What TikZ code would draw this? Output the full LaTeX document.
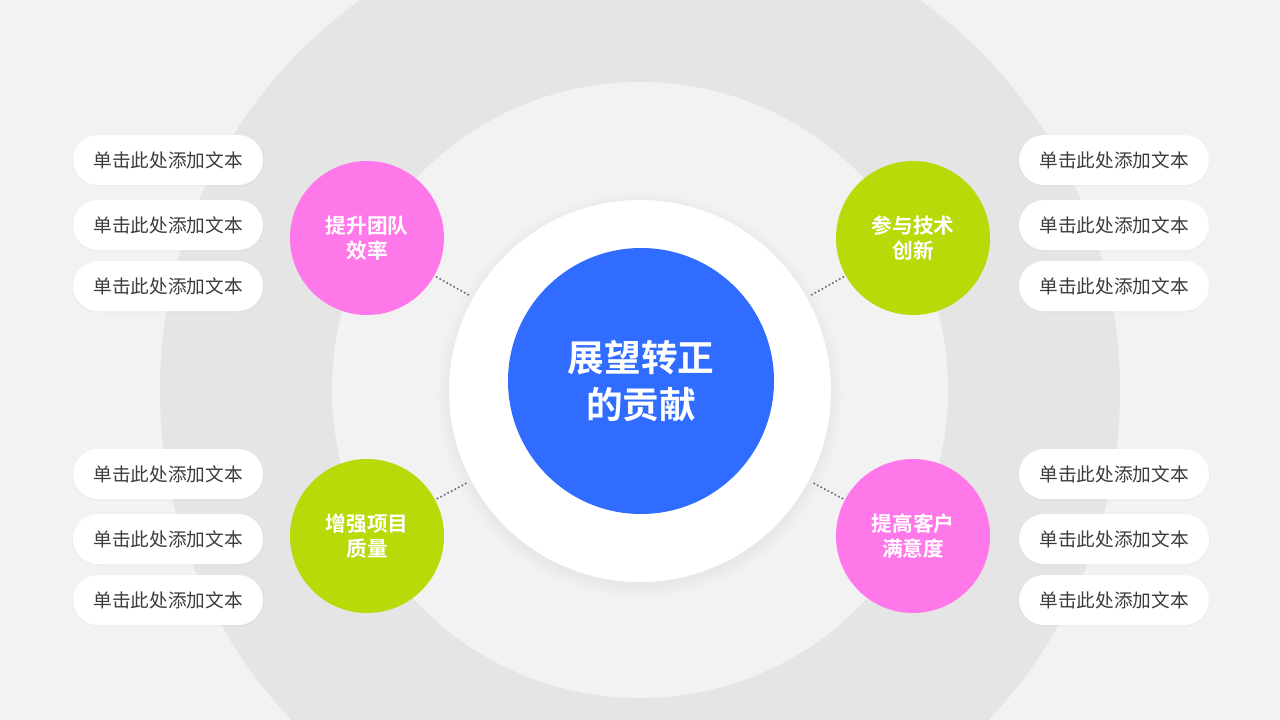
\documentclass[tikz,border=0pt]{standalone}
\usepackage{fontspec}
\newfontfamily\cjk{Noto Sans CJK SC}
\newfontfamily\cjkbold{Noto Sans CJK SC Bold}
\definecolor{bgc}{HTML}{F2F2F2}
\definecolor{ringc}{HTML}{E5E5E5}
\definecolor{bluec}{HTML}{2F6CFF}
\definecolor{pinkc}{HTML}{FF78E9}
\definecolor{greenc}{HTML}{B9D908}
\definecolor{txtc}{HTML}{3C3C3C}
\definecolor{dotc}{HTML}{5F6B7A}
\tikzset{
  pill/.style={rectangle, rounded corners=18.75pt, fill=white, minimum width=142.5pt, minimum height=37.5pt, inner sep=0pt, font=\cjk\fontsize{14}{16}\selectfont, text=txtc},
  bubble/.style={circle, minimum size=115.5pt, inner sep=0pt, text=white, align=center, font=\cjkbold\fontsize{15.5}{18.5}\selectfont},
  conn/.style={draw=dotc, line width=1.7pt, line cap=round, dash pattern=on 0pt off 3pt, shorten >=2pt, shorten <=2pt}
}
\begin{document}
\begin{tikzpicture}[x=0.75pt,y=-0.75pt]
\useasboundingbox (0,0) rectangle (1280,720);
\fill[bgc] (0,0) rectangle (1280,720);
\begin{scope}
\clip (0,0) rectangle (1280,720);
\fill[ringc] (640,390) circle (480);
\fill[bgc] (640,390) circle (308);
\end{scope}
% soft shadow of white circle
\foreach \i in {1,...,10}{
  \fill[black,opacity=0.0045] (640,395) circle ({190+\i*1.3});
}
\node[circle, fill=white, minimum size=286.5pt, inner sep=0pt] (wc) at (640,391) {};
\node[circle, fill=bluec, minimum size=199.5pt, inner sep=0pt, text=white, align=center, font=\cjkbold\fontsize{27.5}{35}\selectfont] (core) at (641,381) {展望转正\\的贡献};
% bubbles
\node[bubble, fill=pinkc] (tl) at (367,238) {提升团队\\效率};
\node[bubble, fill=greenc] (tr) at (913,238) {参与技术\\创新};
\node[bubble, fill=greenc] (bl) at (367,536) {增强项目\\质量};
\node[bubble, fill=pinkc] (br) at (913,536) {提高客户\\满意度};
% connectors
\draw[conn] (tl) -- (wc);
\draw[conn] (tr) -- (wc);
\draw[conn] (bl) -- (wc);
\draw[conn] (br) -- (wc);
% pills
\foreach \n/\x/\y in {l1/168/160, l2/168/225, l3/168/286, l4/168/474, l5/168/539, l6/168/600,
                       r1/1114/160, r2/1114/225, r3/1114/286, r4/1114/474, r5/1114/539, r6/1114/600}{
  \fill[black,opacity=0.015,rounded corners=19.5pt] (\x-96,\y-25) rectangle (\x+96,\y+27);
  \node[pill] (\n) at (\x,\y) {单击此处添加文本};
}
\end{tikzpicture}
\end{document}
